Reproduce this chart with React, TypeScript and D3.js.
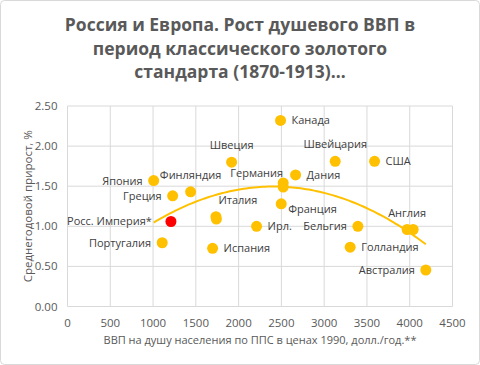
import React from "react";
import * as d3 from "d3";

const W = 480;
const H = 365;

const titleLines = [
  "Россия и Европа. Рост душевого ВВП в",
  "период классического золотого",
  "стандарта (1870-1913)…",
];

const countries = [
  "Канада", "Швеция", "Швейцария", "США", "Германия", "Германия2", "Дания", "Франция",
  "Ирл.", "Бельгия", "Англия", "Англия2", "Голландия", "Австралия", "Япония",
  "Финляндия", "Греция", "Италия", "Италия2", "Португалия", "Испания",
];
const gdp = [
  2490, 1918, 3129, 3589, 2521, 2521, 2666, 2498,
  2210, 3394, 3970, 4040, 3304, 4188, 1007,
  1439, 1229, 1735, 1740, 1107, 1696,
];
const growth = [
  2.32, 1.80, 1.81, 1.81, 1.54, 1.49, 1.64, 1.28,
  1.00, 1.00, 0.96, 0.96, 0.74, 0.455, 1.57,
  1.43, 1.38, 1.12, 1.09, 0.795, 0.726,
];

const russiaName = ["Росс. Империя*"];
const russiaGdp = [1209];
const russiaGrowth = [1.06];

const xTicks = [0, 500, 1000, 1500, 2000, 2500, 3000, 3500, 4000, 4500];
const yTicks = [0, 0.5, 1.0, 1.5, 2.0, 2.5];

const xTitle = "ВВП на душу населения по ППС в ценах 1990, долл./год.**";
const yTitle = "Среднегодовой прирост, %";

// label placement (style only)
type Place = { side: "left" | "right" | "above"; dx?: number; dy?: number; hide?: boolean };
const placement: Record<string, Place> = {
  "Канада": { side: "right" },
  "Швеция": { side: "above" },
  "Швейцария": { side: "above" },
  "США": { side: "right" },
  "Германия": { side: "left", dx: 11, dy: -10 },
  "Германия2": { side: "right", hide: true },
  "Дания": { side: "right" },
  "Франция": { side: "right", dx: -4, dy: 5 },
  "Ирл.": { side: "right" },
  "Бельгия": { side: "left" },
  "Англия": { side: "above", dx: 0 },
  "Англия2": { side: "right", hide: true },
  "Голландия": { side: "right" },
  "Австралия": { side: "left" },
  "Япония": { side: "left" },
  "Финляндия": { side: "above" },
  "Греция": { side: "left" },
  "Италия": { side: "above", dx: 22, dy: 0 },
  "Италия2": { side: "right", hide: true },
  "Португалия": { side: "left" },
  "Испания": { side: "right" },
  "Росс. Империя*": { side: "left", dx: -8 },
};

function quadFit(xs: number[], ys: number[]) {
  const s = 1000;
  const S = [0, 0, 0, 0, 0];
  const T = [0, 0, 0];
  xs.forEach((x0, i) => {
    const x = x0 / s;
    const y = ys[i];
    let p = 1;
    for (let k = 0; k < 5; k++) {
      S[k] += p;
      if (k < 3) T[k] += p * y;
      p *= x;
    }
  });
  const M = [
    [S[0], S[1], S[2], T[0]],
    [S[1], S[2], S[3], T[1]],
    [S[2], S[3], S[4], T[2]],
  ];
  for (let i = 0; i < 3; i++) {
    let piv = i;
    for (let r = i + 1; r < 3; r++) if (Math.abs(M[r][i]) > Math.abs(M[piv][i])) piv = r;
    [M[i], M[piv]] = [M[piv], M[i]];
    for (let r = 0; r < 3; r++) {
      if (r === i) continue;
      const f = M[r][i] / M[i][i];
      for (let c = i; c < 4; c++) M[r][c] -= f * M[i][c];
    }
  }
  const a = M[0][3] / M[0][0];
  const b = M[1][3] / M[1][1];
  const c = M[2][3] / M[2][2];
  return (x0: number) => {
    const x = x0 / s;
    return a + b * x + c * x * x;
  };
}

export default function App() {
  const margin = { left: 67.5, right: W - 452.5, top: 106, bottom: H - 306.5 };
  const x = d3.scaleLinear().domain([0, 4500]).range([margin.left, W - margin.right]);
  const y = d3.scaleLinear().domain([0, 2.5]).range([H - margin.bottom, margin.top]);

  const fit = quadFit(gdp, growth);
  const [xmin, xmax] = d3.extent(gdp) as [number, number];
  const trendPts = d3.range(0, 101).map((i) => {
    const xv = xmin + ((xmax - xmin) * i) / 100;
    return [xv, fit(xv)] as [number, number];
  });
  const line = d3
    .line<[number, number]>()
    .x((d) => x(d[0]))
    .y((d) => y(d[1]));

  const points = countries.map((n, i) => ({ name: n, gx: gdp[i], gy: growth[i], red: false }));
  const rus = russiaName.map((n, i) => ({ name: n, gx: russiaGdp[i], gy: russiaGrowth[i], red: true }));
  const all = [...points, ...rus];

  const font = "'Open Sans', 'Noto Sans', sans-serif";
  const gray = "#595959";
  const r = 5.5;

  return (
    <svg
      width={W}
      height={H}
      style={{ position: "absolute", left: 0, top: 0, background: "#fff" }}
      fontFamily={font}
    >
      <rect x={0.5} y={0.5} width={W - 1} height={H - 1} rx={4} fill="#fff" stroke="#d9d9d9" />
      {titleLines.map((t, i) => (
        <text
          key={i}
          x={240}
          y={31 + i * 23.5}
          textAnchor="middle"
          fontSize={17.5}
          fontWeight="bold"
          fill={gray}
        >
          {t}
        </text>
      ))}
      {xTicks.map((t) => (
        <line key={"gx" + t} x1={x(t)} x2={x(t)} y1={y(0)} y2={y(2.5)} stroke="#d9d9d9" strokeWidth={1} />
      ))}
      {yTicks.map((t) => (
        <line key={"gy" + t} x1={x(0)} x2={x(4500)} y1={y(t)} y2={y(t)} stroke="#d9d9d9" strokeWidth={1} />
      ))}
      {xTicks.map((t) => (
        <text key={"tx" + t} x={x(t)} y={y(0) + 20} textAnchor="middle" fontSize={11.5} fill={gray}>
          {t}
        </text>
      ))}
      {yTicks.map((t) => (
        <text key={"ty" + t} x={x(0) - 10} y={y(t) + 4} textAnchor="end" fontSize={11.5} fill={gray}>
          {t.toFixed(2)}
        </text>
      ))}
      <text x={260} y={344} textAnchor="middle" fontSize={11} fill={gray}>
        {xTitle}
      </text>
      <text
        transform={`translate(${32},${y(1.25)}) rotate(-90)`}
        textAnchor="middle"
        fontSize={11.5}
        fill={gray}
      >
        {yTitle}
      </text>
      <path d={line(trendPts) || ""} fill="none" stroke="#FFC000" strokeWidth={2} />
      {all.map((p, i) => (
        <circle key={"p" + i} cx={x(p.gx)} cy={y(p.gy)} r={r} fill={p.red ? "#FF0000" : "#FFC000"} />
      ))}
      {all.map((p, i) => {
        const pl = placement[p.name];
        if (!pl || pl.hide) return null;
        const cx = x(p.gx);
        const cy = y(p.gy);
        let tx = cx;
        let ty = cy + 4;
        let anchor: "start" | "end" | "middle" = "middle";
        if (pl.side === "right") {
          tx = cx + 11;
          anchor = "start";
        } else if (pl.side === "left") {
          tx = cx - 11;
          anchor = "end";
        } else {
          ty = cy - 13;
        }
        tx += pl.dx || 0;
        ty += pl.dy || 0;
        return (
          <text key={"l" + i} x={tx} y={ty} textAnchor={anchor} fontSize={11} fill="#404040">
            {p.name.replace(/2$/, "")}
          </text>
        );
      })}
    </svg>
  );
}
